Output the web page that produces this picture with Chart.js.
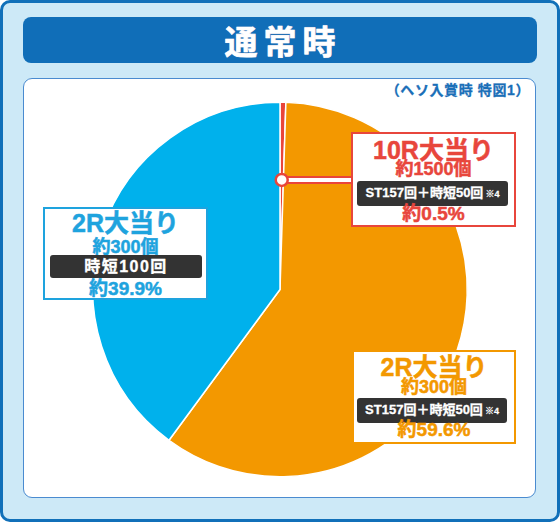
<!DOCTYPE html>
<html lang="ja">
<head>
<meta charset="utf-8">
<script src="https://cdn.jsdelivr.net/npm/chart.js@4"></script>
<style>
    html, body {
        margin: 0;
        padding: 0;
        width: 560px;
        height: 523px;
        overflow: hidden;
        background: #ffffff;
        font-family: "Liberation Sans", "Noto Sans CJK JP", sans-serif;
    }
    .frame {
        position: absolute;
        left: 0; top: 0;
        width: 554px; height: 516px;
        background: #cde9f7;
        border: 3px solid #1170b9;
        border-radius: 10px;
    }
    .titlebar {
        position: absolute;
        left: 23px; top: 17px;
        width: 514px; height: 46px;
        background: #106eb8;
        border-radius: 8px;
        color: #ffffff;
        font-family: "Noto Sans CJK JP", sans-serif;
        font-size: 33px;
        font-weight: bold;
        line-height: 46px;
        text-align: center;
        letter-spacing: 6px;
        text-indent: 6px;
        -webkit-text-stroke: 0.6px #ffffff;
        text-shadow: 0 0 1px #c58aa6;
    }
    .panel {
        position: absolute;
        left: 23px; top: 78px;
        width: 511px; height: 418px;
        background: #ffffff;
        border: 1.5px solid #4a8bd0;
        border-radius: 9px;
    }
    .note {
        position: absolute;
        right: 30px; top: 80px;
        color: #1a6fb8;
        font-size: 14px;
        font-weight: bold;
        line-height: 20px;
        letter-spacing: 0.6px;
        -webkit-text-stroke: 0.3px #1a6fb8;
    }
    #chart {
        position: absolute;
        left: 0; top: 0;
    }
    .box {
        position: absolute;
        box-sizing: border-box;
        background: #ffffff;
        border: 2px solid;
        font-weight: bold;
        text-align: center;
    }
    .box .t, .box .s, .box .p {
        position: absolute;
        left: 0; right: 0;
        white-space: nowrap;
        -webkit-text-stroke: 0.5px currentColor;
    }
    .box .t { font-size: 25px; line-height: 26px; }
    .box .s { font-size: 18px; line-height: 20px; }
    .box .p { font-size: 19px; line-height: 20px; }
    .box .pill {
        position: absolute;
        background: #333333;
        border-radius: 3px;
        color: #ffffff;
        font-size: 13px;
        line-height: 23px;
        white-space: nowrap;
        -webkit-text-stroke: 0.3px #ffffff;
    }
    .box .pill small { font-size: 9px; margin-left: 2px; }
</style>
</head>
<body>
<div class="frame"></div>
<div class="titlebar">通常時</div>
<div class="panel"></div>
<div class="note">（ヘソ入賞時 特図1）</div>
<canvas id="chart" width="560" height="523"></canvas>
<div id="labels"></div>

<script>
// slices, clockwise from the top
const categories = ['10R大当り', '2R大当り', '2R大当り'];
const shares = [0.5, 59.6, 39.9];
const payouts = ['約1500個', '約300個', '約300個'];
const bonuses = ['ST157回＋時短50回', 'ST157回＋時短50回', '時短100回'];
const footnotes = ['※4', '※4', ''];
const shareLabels = ['約0.5%', '約59.6%', '約39.9%'];

const sliceColors = ['#e9453a', '#f39800', '#00b1ec'];
const textColors = ['#e8463c', '#f39800', '#1ea3de'];

// label box layout (page px)
const boxes = [
    { left: 351, top: 132, width: 165, height: 95, t: 5, s: 27, pill: [6, 49, 151], p: 72 },
    { left: 352, top: 350, width: 164, height: 94, t: 4, s: 27, pill: [5, 48, 150], p: 70 },
    { left: 43, top: 207, width: 165, height: 93, t: 3, s: 30, pill: [7, 48, 152], p: 72 }
];

const labelRoot = document.getElementById('labels');
boxes.forEach((b, i) => {
    const el = document.createElement('div');
    el.className = 'box';
    el.style.cssText = `left:${b.left}px;top:${b.top}px;width:${b.width}px;height:${b.height}px;border-color:${textColors[i]};color:${textColors[i]};`;
    const note = footnotes[i] ? `<small>${footnotes[i]}</small>` : '';
    const pillStyle = `left:${b.pill[0] - 2}px;top:${b.pill[1] - 2}px;width:${b.pill[2]}px;` +
        (footnotes[i] ? '' : 'font-size:16px;letter-spacing:1.5px;');
    el.innerHTML =
        `<div class="t" style="top:${b.t - 2}px">${categories[i]}</div>` +
        `<div class="s" style="top:${b.s - 2}px">${payouts[i]}</div>` +
        `<div class="pill" style="${pillStyle}">${bonuses[i]}${note}</div>` +
        `<div class="p" style="top:${b.p - 2}px">${shareLabels[i]}</div>`;
    labelRoot.appendChild(el);
});

// leader line from the thin 10R slice to its box
const leaderLine = {
    id: 'leaderLine',
    afterDatasetsDraw(chart) {
        const arc = chart.getDatasetMeta(0).data[0];
        const { x, y, startAngle, endAngle, outerRadius } = arc.getProps(['x', 'y', 'startAngle', 'endAngle', 'outerRadius'], true);
        const mid = (startAngle + endAngle) / 2;
        const px = x + Math.cos(mid) * outerRadius * 0.585;
        const py = y + Math.sin(mid) * outerRadius * 0.585;
        const endX = boxes[0].left + 1;
        const ctx = chart.ctx;
        ctx.save();
        ctx.lineCap = 'butt';
        ctx.strokeStyle = sliceColors[0];
        ctx.lineWidth = 8;
        ctx.beginPath();
        ctx.moveTo(px, py);
        ctx.lineTo(endX, py);
        ctx.stroke();
        ctx.strokeStyle = '#ffffff';
        ctx.lineWidth = 4;
        ctx.beginPath();
        ctx.moveTo(px, py);
        ctx.lineTo(endX, py);
        ctx.stroke();
        ctx.beginPath();
        ctx.arc(px, py, 6, 0, Math.PI * 2);
        ctx.fillStyle = '#ffffff';
        ctx.fill();
        ctx.lineWidth = 2.5;
        ctx.strokeStyle = sliceColors[0];
        ctx.stroke();
        ctx.restore();
    }
};

new Chart(document.getElementById('chart').getContext('2d'), {
    type: 'pie',
    data: {
        labels: categories,
        datasets: [{
            data: shares,
            backgroundColor: sliceColors,
            borderColor: '#ffffff',
            borderWidth: 1.5
        }]
    },
    options: {
        responsive: false,
        animation: false,
        layout: { padding: { left: 92, right: 92, top: 101, bottom: 45 } },
        plugins: {
            legend: { display: false },
            tooltip: { enabled: false }
        }
    },
    plugins: [leaderLine]
});
</script>
</body>
</html>
